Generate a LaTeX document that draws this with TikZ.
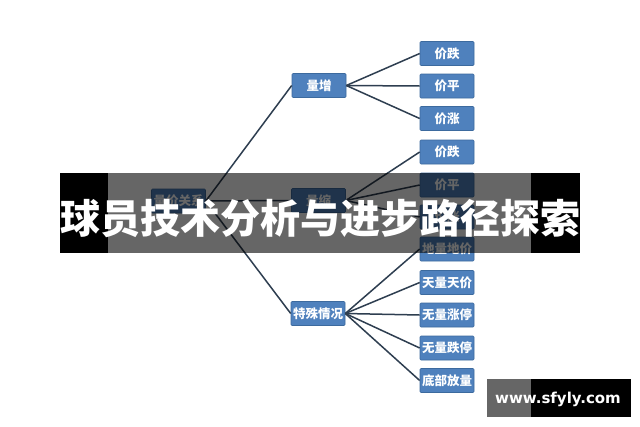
\documentclass[tikz,border=0pt]{standalone}
\usepackage{fontspec}
\newfontfamily\cjk{Noto Sans CJK SC}
\newfontfamily\wmfont{DejaVu Sans}
\definecolor{nodeblue}{HTML}{4F81BD}
\definecolor{nodeedge}{HTML}{3C6A9E}
\definecolor{linkcol}{HTML}{2E3E50}
\begin{document}
\begin{tikzpicture}[x=1pt,y=-1pt,
  box/.style={draw=nodeedge,line width=0.6pt,fill=nodeblue,rounded corners=1pt,text=white,
    font=\cjk\bfseries\fontsize{12.5}{14}\selectfont,minimum width=54pt,minimum height=24pt,inner sep=1pt},
  link/.style={draw=linkcol,line width=1.5pt}]
\useasboundingbox (0,0) rectangle (640,426);
\fill[white] (0,0) rectangle (640,426);
% root and middle level
\node[box] (root) at (178.5,201) {量价关系};
\node[box] (inc) at (319,85.5) {量增};
\node[box] (dec) at (318.5,200.5) {量缩};
\node[box] (spec) at (318,313.5) {特殊情况};
% leaves
\node[box] (a1) at (447,53.5) {价跌};
\node[box] (a2) at (447,86) {价平};
\node[box] (a3) at (447,118.5) {价涨};
\node[box] (b1) at (447,152) {价跌};
\node[box] (b2) at (447,185) {价平};
\node[box] (b3) at (447,217) {价涨};
\node[box] (c1) at (447,249) {地量地价};
\node[box] (c2) at (447,282.5) {天量天价};
\node[box] (c3) at (447,315) {无量涨停};
\node[box] (c4) at (447,348) {无量跌停};
\node[box] (c5) at (447,380.5) {底部放量};
% connectors
\foreach \c in {inc,dec,spec} \draw[link] (root.east) -- (\c.west);
\foreach \c in {a1,a2,a3} \draw[link] (inc.east) -- (\c.west);
\foreach \c in {b1,b2,b3} \draw[link] (dec.east) -- (\c.west);
\foreach \c in {c1,c2,c3,c4,c5} \draw[link] (spec.east) -- (\c.west);
% title banner
\fill[black,opacity=0.6] (108,173) rectangle (531,253);
\fill[black] (60,173) rectangle (108,253);
\fill[black] (531,173) rectangle (580,253);
\node[text=white,font=\cjk\bfseries\fontsize{40}{44}\selectfont,inner sep=0pt] (title) at (320,219) {球员技术分析与进步路径探索};
% watermark
\fill[black,opacity=0.6] (487,379) rectangle (531,417);
\fill[black] (531,379) rectangle (631,417);
\node[text=white,font=\wmfont\bfseries\fontsize{15}{17}\selectfont,inner sep=0pt] (wm) at (558,399) {www.sfyly.com};
\end{tikzpicture}
\end{document}
